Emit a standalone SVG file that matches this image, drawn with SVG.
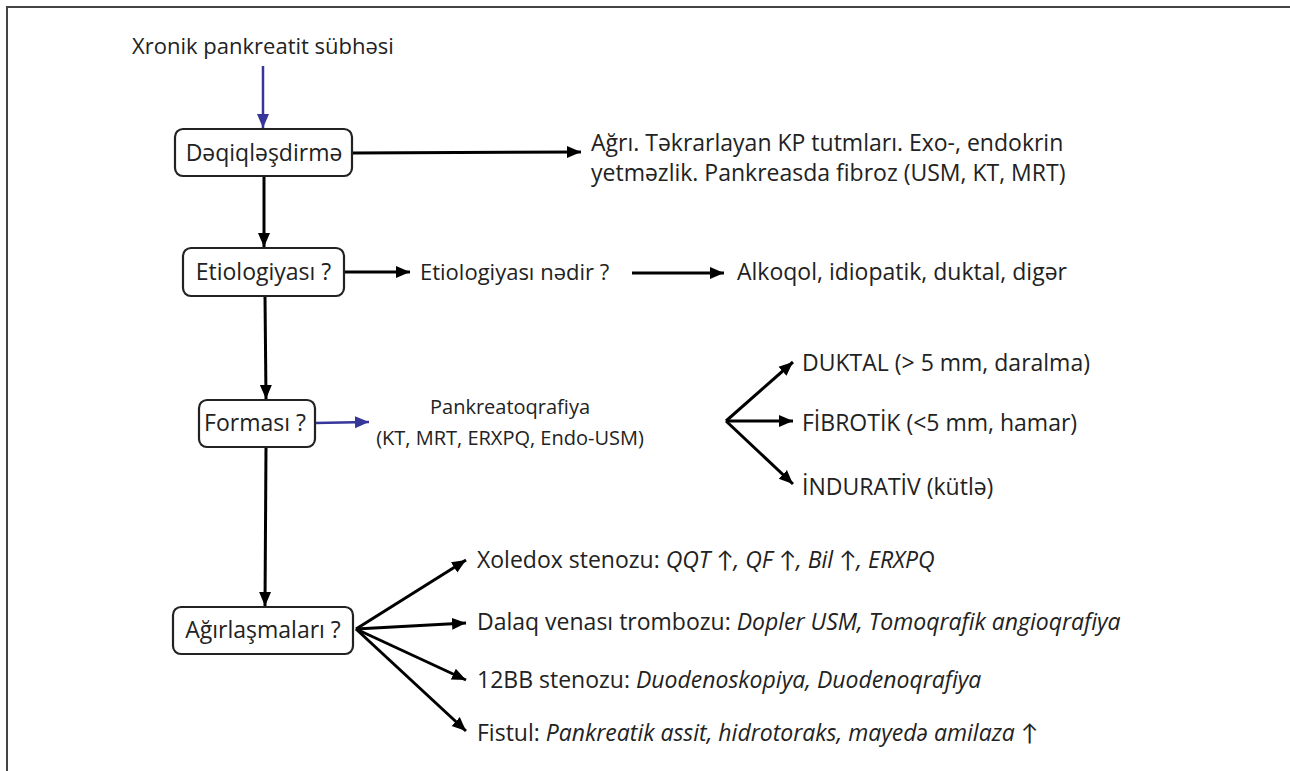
<svg xmlns="http://www.w3.org/2000/svg" width="1290" height="771" viewBox="0 0 1290 771">
  <style>
    text { font-family: "Open Sans", Lato, "Liberation Sans", sans-serif; font-size: 23px; fill: #222; font-variant-ligatures: none; }
    .mid { text-anchor: middle; }
    .it { font-style: italic; }
    .sm { font-size: 20px; }
    .box { fill: #fff; stroke: #222; stroke-width: 2.2; }
    .ln { fill: none; stroke: #000; stroke-width: 3; }
    .blue { fill: none; stroke: #35359a; stroke-width: 2.5; }
  </style>
  <defs>
    <marker id="ah" markerUnits="userSpaceOnUse" markerWidth="16" markerHeight="14" refX="14" refY="7" orient="auto">
      <path d="M0,1 L14,7 L0,13 Z" fill="#000"/>
    </marker>
    <marker id="ahb" markerUnits="userSpaceOnUse" markerWidth="16" markerHeight="14" refX="14" refY="7" orient="auto">
      <path d="M0,1 L14,7 L0,13 Z" fill="#35359a"/>
    </marker>
  </defs>
  <rect width="1290" height="771" fill="#fff"/>
  <!-- frame -->
  <path d="M7,771 V7 H1290" fill="none" stroke="#444" stroke-width="2"/>

  <g id="connectors">
    <line class="blue" x1="263" y1="66" x2="263" y2="128" marker-end="url(#ahb)"/>
    <line class="ln" x1="352" y1="153" x2="581" y2="152" marker-end="url(#ah)"/>
    <line class="ln" x1="264" y1="176" x2="264" y2="247" marker-end="url(#ah)"/>
    <line class="ln" x1="344" y1="272" x2="410" y2="272" marker-end="url(#ah)"/>
    <line class="ln" x1="632" y1="273" x2="724" y2="273" marker-end="url(#ah)"/>
    <line class="ln" x1="265" y1="296" x2="266" y2="399" marker-end="url(#ah)"/>
    <line class="blue" x1="315" y1="423" x2="369" y2="422" marker-end="url(#ahb)"/>
    <line class="ln" x1="726" y1="421" x2="793" y2="362" marker-end="url(#ah)"/>
    <line class="ln" x1="726" y1="421" x2="793" y2="421" marker-end="url(#ah)"/>
    <line class="ln" x1="726" y1="421" x2="793" y2="484" marker-end="url(#ah)"/>
    <line class="ln" x1="266" y1="447" x2="265" y2="606" marker-end="url(#ah)"/>
    <line class="ln" x1="356" y1="629" x2="466" y2="560" marker-end="url(#ah)"/>
    <line class="ln" x1="356" y1="629" x2="466" y2="623" marker-end="url(#ah)"/>
    <line class="ln" x1="356" y1="629" x2="466" y2="680" marker-end="url(#ah)"/>
    <line class="ln" x1="356" y1="629" x2="466" y2="731" marker-end="url(#ah)"/>
  </g>

  <g id="start">
    <text x="263" y="54" class="mid" style="font-size:22px">Xronik pankreatit sübhəsi</text>
  </g>

  <g id="deqiqlesdirme">
    <rect class="box" x="175" y="129" width="177" height="47" rx="8"/>
    <text x="264" y="161" class="mid">Dəqiqləşdirmə</text>
  </g>
  <g id="diagnosis-criteria">
    <text x="591" y="151">Ağrı. Təkrarlayan KP tutmları. Exo-, endokrin</text>
    <text x="591" y="181">yetməzlik. Pankreasda fibroz (USM, KT, MRT)</text>
  </g>

  <g id="etiologiyasi">
    <rect class="box" x="183" y="248" width="161" height="48" rx="8"/>
    <text x="263.5" y="280" class="mid">Etiologiyası ?</text>
  </g>
  <g id="etiologiya-nedir">
    <text x="420" y="280" style="font-size:22px">Etiologiyası nədir ?</text>
  </g>
  <g id="etiologiya-list">
    <text x="737" y="280">Alkoqol, idiopatik, duktal, digər</text>
  </g>

  <g id="formasi">
    <rect class="box" x="199" y="400" width="116" height="47" rx="8"/>
    <text x="255" y="431" class="mid">Forması ?</text>
  </g>
  <g id="pankreatoqrafiya">
    <text x="510" y="414" class="mid sm">Pankreatoqrafiya</text>
    <text x="510" y="445" class="mid sm">(KT, MRT, ERXPQ, Endo-USM)</text>
  </g>
  <g id="duktal">
    <text x="802" y="371">DUKTAL (&gt; 5 mm, daralma)</text>
  </g>
  <g id="fibrotik">
    <text x="802" y="431">FİBROTİK (&lt;5 mm, hamar)</text>
  </g>
  <g id="indurativ">
    <text x="802" y="495">İNDURATİV (kütlə)</text>
  </g>

  <g id="agirlasmalari">
    <rect class="box" x="173" y="607" width="180" height="47" rx="8"/>
    <text x="263" y="638" class="mid">Ağırlaşmaları ?</text>
  </g>
  <g id="xoledox">
    <text x="477" y="568">Xoledox stenozu: <tspan class="it">QQT ↑, QF ↑, Bil ↑, ERXPQ</tspan></text>
  </g>
  <g id="dalaq">
    <text x="477" y="630">Dalaq venası trombozu: <tspan class="it">Dopler USM, Tomoqrafik angioqrafiya</tspan></text>
  </g>
  <g id="duodenal">
    <text x="477" y="688">12BB stenozu: <tspan class="it">Duodenoskopiya, Duodenoqrafiya</tspan></text>
  </g>
  <g id="fistul">
    <text x="477" y="741">Fistul: <tspan class="it">Pankreatik assit, hidrotoraks, mayedə  amilaza ↑</tspan></text>
  </g>
</svg>
